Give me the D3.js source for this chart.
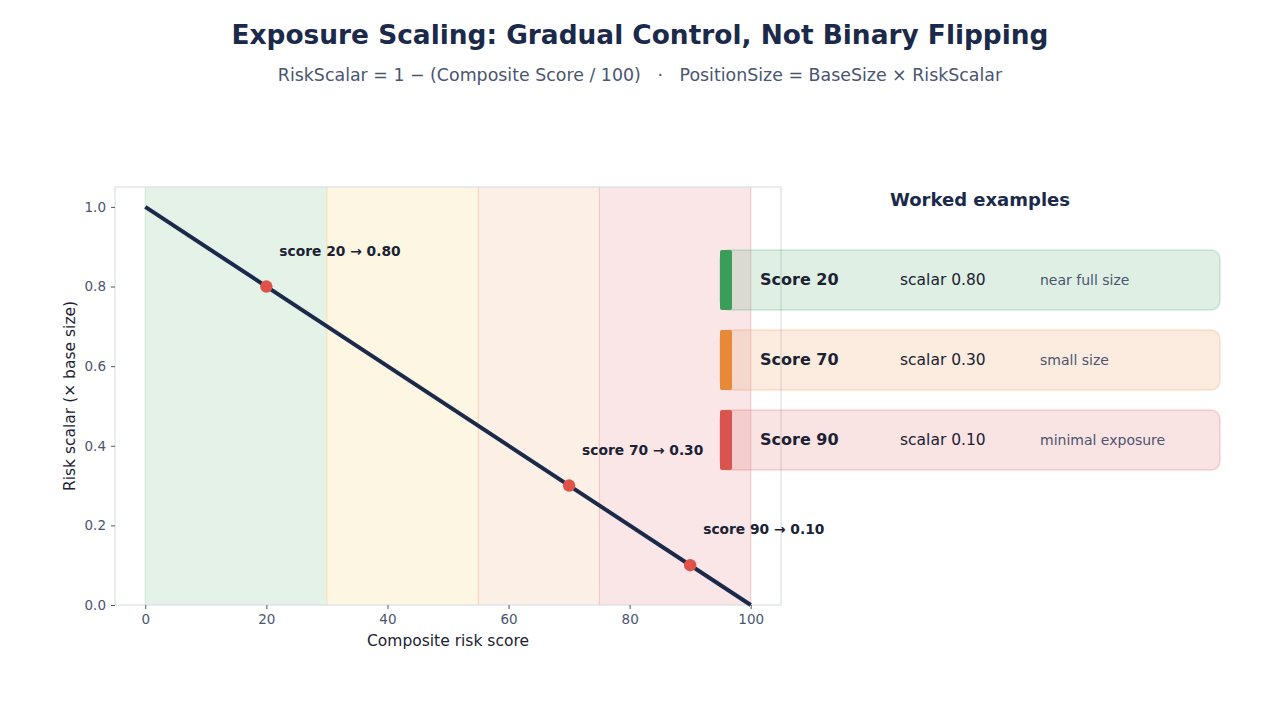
<!DOCTYPE html>
<html>
<head>
  <meta charset="utf-8">
  <title>Exposure Scaling</title>
  <script src="https://d3js.org/d3.v7.min.js"></script>
  <style>
    body { margin: 0; background: #fff; }
    svg { font-family: "DejaVu Sans", sans-serif; }
    .domain { stroke: none; }
  </style>
</head>
<body>
  <script>
    // Line endpoints and marked scores
    var lineScores = [0, 100];
    var markedScores = [20, 70, 90];
    var markedScalars = [0.80, 0.30, 0.10];

    // Risk zones
    var zoneStarts = [0, 30, 55, 75];
    var zoneEnds = [30, 55, 75, 100];
    var zoneFills = ["#e4f2e8", "#fdf6e3", "#fcefe5", "#fae6e7"];
    var zoneEdges = ["#cfe6d3", "#f7ddb0", "#f6cfb8", "#f0c3c4"];

    // Worked example cards
    var cardScores = ["Score 20", "Score 70", "Score 90"];
    var cardScalars = ["scalar 0.80", "scalar 0.30", "scalar 0.10"];
    var cardNotes = ["near full size", "small size", "minimal exposure"];
    var cardAccents = ["#3a9e5a", "#e8893a", "#d9534f"];
    var cardFills = ["rgba(58,158,90,0.16)", "rgba(232,137,58,0.16)", "rgba(217,83,79,0.16)"];
    var cardBorders = ["rgba(58,158,90,0.22)", "rgba(232,137,58,0.22)", "rgba(217,83,79,0.22)"];

    var xTicks = [0, 20, 40, 60, 80, 100];
    var yTicks = [0, 0.2, 0.4, 0.6, 0.8, 1.0];

    var W = 1280, H = 720;
    var svg = d3.select("body").append("svg")
      .attr("width", W).attr("height", H);

    // Titles
    svg.append("text")
      .attr("x", 640).attr("y", 44)
      .attr("text-anchor", "middle")
      .style("font-size", "26.4px").style("font-weight", "bold")
      .style("fill", "#1b2a4a")
      .text("Exposure Scaling: Gradual Control, Not Binary Flipping");

    svg.append("text")
      .attr("x", 640).attr("y", 81)
      .attr("text-anchor", "middle")
      .style("font-size", "17.4px")
      .style("white-space", "pre")
      .style("fill", "#4a5570")
      .text("RiskScalar = 1 \u2212 (Composite Score / 100)   \u00b7   PositionSize = BaseSize \u00d7 RiskScalar");

    // Plot area
    var pLeft = 115, pRight = 781, pTop = 187, pBottom = 605;
    var x = d3.scaleLinear().domain([-5, 105]).range([pLeft, pRight]);
    var y = d3.scaleLinear().domain([0, 1.05]).range([pBottom, pTop]);

    var plot = svg.append("g");

    plot.selectAll(".zone")
      .data(zoneStarts)
      .enter().append("rect")
      .attr("x", function(d) { return x(d); })
      .attr("y", pTop)
      .attr("width", function(d, i) { return x(zoneEnds[i]) - x(d); })
      .attr("height", pBottom - pTop)
      .style("fill", function(d, i) { return zoneFills[i]; });

    plot.selectAll(".zoneEdge")
      .data(zoneStarts.concat([100]))
      .enter().append("line")
      .attr("x1", function(d) { return x(d); })
      .attr("x2", function(d) { return x(d); })
      .attr("y1", pTop).attr("y2", pBottom)
      .style("stroke", function(d, i) { return zoneEdges[Math.min(i, 3)]; })
      .style("stroke-width", 1);

    // Frame
    plot.append("rect")
      .attr("x", pLeft).attr("y", pTop)
      .attr("width", pRight - pLeft).attr("height", pBottom - pTop)
      .style("fill", "none").style("stroke", "#d3dbe4").style("stroke-width", 1);

    // Axes
    var xAxisG = plot.append("g")
      .attr("transform", "translate(0," + pBottom + ")")
      .call(d3.axisBottom(x).tickValues(xTicks).tickSize(4).tickPadding(5));

    var yAxisG = plot.append("g")
      .attr("transform", "translate(" + pLeft + ",0)")
      .call(d3.axisLeft(y).tickValues(yTicks).tickFormat(d3.format(".1f")).tickSize(4).tickPadding(5));

    [xAxisG, yAxisG].forEach(function(g) {
      g.attr("font-family", "DejaVu Sans").attr("font-size", 13.5);
      g.selectAll(".tick text").style("fill", "#4a5570");
      g.selectAll(".tick line").style("stroke", "#4a5570");
    });

    svg.append("text")
      .attr("x", (pLeft + pRight) / 2).attr("y", 646)
      .attr("text-anchor", "middle")
      .style("font-size", "15.5px").style("fill", "#1b2233")
      .text("Composite risk score");

    svg.append("text")
      .attr("transform", "translate(75," + (pTop + pBottom) / 2 + ") rotate(-90)")
      .attr("text-anchor", "middle")
      .style("font-size", "15.5px").style("fill", "#1b2233")
      .text("Risk scalar (\u00d7 base size)");

    // Scalar line
    var line = d3.line()
      .x(function(d) { return x(d); })
      .y(function(d) { return y(1 - d / 100); });

    plot.append("path")
      .datum(lineScores)
      .attr("d", line)
      .style("fill", "none").style("stroke", "#1b2a4a").style("stroke-width", 4);

    plot.selectAll(".pt")
      .data(markedScores)
      .enter().append("circle")
      .attr("cx", function(d) { return x(d); })
      .attr("cy", function(d, i) { return y(markedScalars[i]); })
      .attr("r", 6.2)
      .style("fill", "#de524a");

    plot.selectAll(".ann")
      .data(markedScores)
      .enter().append("text")
      .attr("x", function(d) { return x(d) + 13; })
      .attr("y", function(d, i) { return y(markedScalars[i]) - 31; })
      .style("font-size", "13.8px").style("font-weight", "bold").style("fill", "#1b2233")
      .text(function(d, i) { return "score " + d + " \u2192 " + markedScalars[i].toFixed(2); });

    // Worked examples panel
    svg.append("text")
      .attr("x", 980).attr("y", 206)
      .attr("text-anchor", "middle")
      .style("font-size", "18px").style("font-weight", "bold").style("fill", "#1b2a4a")
      .text("Worked examples");

    var cards = svg.selectAll(".card")
      .data(cardScores)
      .enter().append("g")
      .attr("transform", function(d, i) { return "translate(720," + (250 + i * 80) + ")"; });

    cards.append("rect")
      .attr("width", 500).attr("height", 60)
      .attr("rx", 9).attr("ry", 9)
      .style("fill", function(d, i) { return cardFills[i]; })
      .style("stroke", function(d, i) { return cardBorders[i]; })
      .style("stroke-width", 1.5);

    cards.append("rect")
      .attr("width", 12).attr("height", 60)
      .attr("rx", 2).attr("ry", 2)
      .style("fill", function(d, i) { return cardAccents[i]; });

    cards.append("text")
      .attr("x", 40).attr("y", 35)
      .style("font-size", "16px").style("font-weight", "bold").style("fill", "#1b2233")
      .text(function(d) { return d; });

    cards.append("text")
      .attr("x", 180).attr("y", 35)
      .style("font-size", "15.5px").style("fill", "#1b2233")
      .text(function(d, i) { return cardScalars[i]; });

    cards.append("text")
      .attr("x", 320).attr("y", 35)
      .style("font-size", "14px").style("fill", "#4a5570")
      .text(function(d, i) { return cardNotes[i]; });
  </script>
</body>
</html>
